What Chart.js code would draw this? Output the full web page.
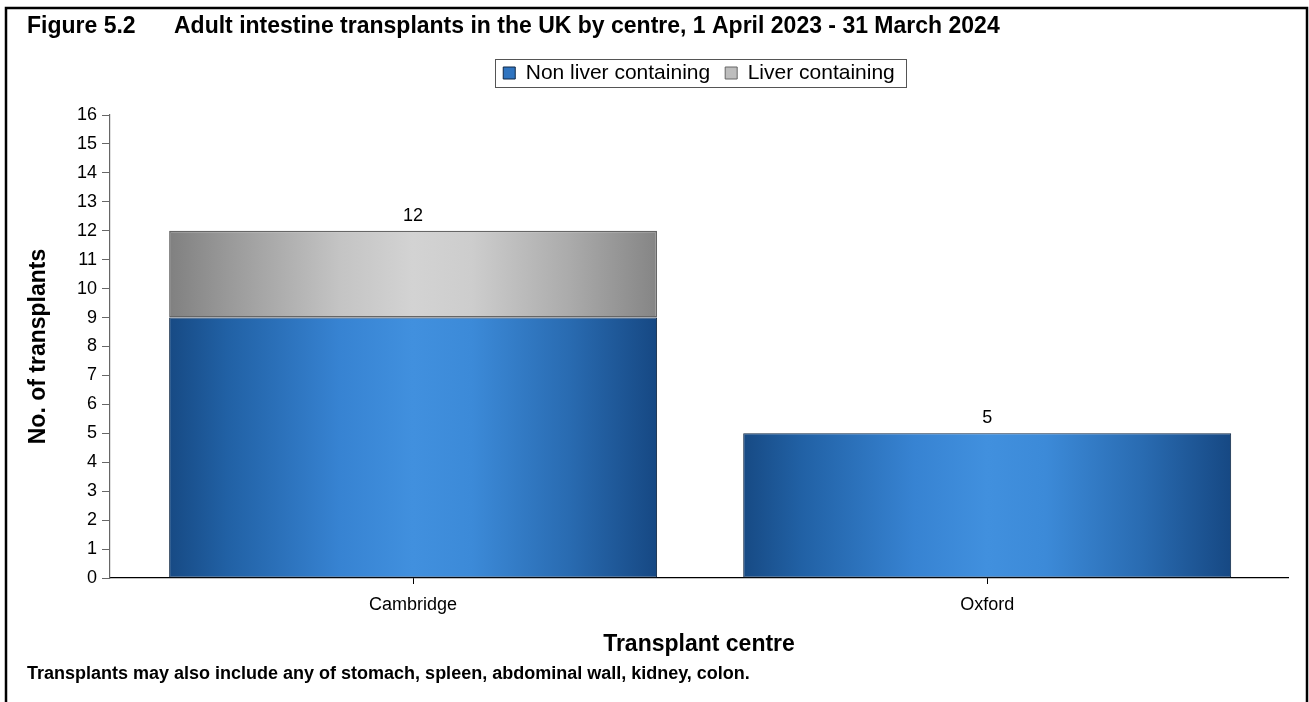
<!DOCTYPE html>
<html>
<head>
<meta charset="utf-8">
<script src="https://cdn.jsdelivr.net/npm/chart.js@4"></script>
<style>
  html, body { margin: 0; padding: 0; background: #fff; }
  canvas { display: block; }
</style>
</head>
<body>
<canvas id="c" width="1309" height="702"></canvas>
<script>
// ---- data ----
const categories = ['Cambridge', 'Oxford'];
const nonLiverContaining = [9, 5];
const liverContaining = [3, 0];
const seriesNames = ['Non liver containing', 'Liver containing'];
const yMin = 0, yMax = 16, yStep = 1;
const titleText = 'Figure 5.2      Adult intestine transplants in the UK by centre, 1 April 2023 - 31 March 2024';
const yAxisTitle = 'No. of transplants';
const xAxisTitle = 'Transplant centre';
const footnote = 'Transplants may also include any of stomach, spleen, abdominal wall, kidney, colon.';

// ---- styles ----
const FONT = '"Liberation Sans", Arial, Helvetica, sans-serif';
const blueStops = [[0, '#174a84'], [0.12, '#2161a5'], [0.35, '#3783d2'], [0.5, '#4190de'], [0.62, '#3c8ad8'], [0.82, '#296bb1'], [1, '#164883']];
const greyStops = [[0, '#808080'], [0.12, '#999999'], [0.35, '#c4c4c4'], [0.5, '#d3d3d3'], [0.62, '#cdcdcd'], [0.82, '#ababab'], [1, '#858585']];

const gradientPlugin = {
  id: 'barGradient',
  beforeDatasetsDraw(chart) {
    const ctx = chart.ctx;
    chart.data.datasets.forEach((ds, di) => {
      const meta = chart.getDatasetMeta(di);
      meta.data.forEach(el => {
        const l = el.x - el.width / 2, r = el.x + el.width / 2;
        const g = ctx.createLinearGradient(l, 0, r, 0);
        ds.stops.forEach(([o, c]) => g.addColorStop(o, c));
        el.options.backgroundColor = g;
      });
    });
  }
};

const extrasPlugin = {
  id: 'extras',
  afterDatasetsDraw(chart) {
    const ctx = chart.ctx;
    const xs = chart.scales.x, ys = chart.scales.y;
    ctx.save();
    ctx.font = '18px ' + FONT;
    ctx.fillStyle = '#000';
    ctx.textAlign = 'center';
    ctx.textBaseline = 'middle';
    categories.forEach((c, i) => {
      const total = chart.data.datasets.reduce((s, ds) => s + (ds.data[i] || 0), 0);
      ctx.fillText(String(total), xs.getPixelForValue(i), ys.getPixelForValue(total) - 15);
    });
    ctx.restore();
  },
  afterDraw(chart) {
    const ctx = chart.ctx;
    ctx.save();
    // legend frame
    const boxes = chart.legend.legendHitBoxes;
    if (boxes && boxes.length) {
      const l = Math.min(...boxes.map(b => b.left)) - 8;
      const r = Math.max(...boxes.map(b => b.left + b.width)) + 11;
      const t = Math.min(...boxes.map(b => b.top)) - 3.5;
      const bt = Math.max(...boxes.map(b => b.top + b.height)) + 3.5;
      ctx.strokeStyle = '#555';
      ctx.lineWidth = 1;
      ctx.strokeRect(Math.round(l) + 0.5, Math.round(t) + 0.5, Math.round(r - l), Math.round(bt - t));
    }
    // footnote
    ctx.font = 'bold 18px ' + FONT;
    ctx.fillStyle = '#000';
    ctx.textAlign = 'left';
    ctx.textBaseline = 'middle';
    ctx.fillText(footnote, 27, 674);
    // outer frame
    ctx.strokeStyle = '#000';
    ctx.lineWidth = 2.5;
    ctx.strokeRect(6, 8, 1301, 720);
    ctx.restore();
  }
};

new Chart(document.getElementById('c'), {
  type: 'bar',
  data: {
    labels: categories,
    datasets: [
      {
        label: seriesNames[0],
        data: nonLiverContaining,
        stops: blueStops,
        backgroundColor: () => '#3a85d4',
        borderColor: '#0f2744',
        borderWidth: 1,
        borderSkipped: false
      },
      {
        label: seriesNames[1],
        data: liverContaining,
        stops: greyStops,
        backgroundColor: () => '#c0c0c0',
        borderColor: '#666666',
        borderWidth: (c) => (c.raw ? 1.6 : 0),
        borderSkipped: false
      }
    ]
  },
  options: {
    responsive: false,
    animation: false,
    devicePixelRatio: 1,
    layout: { padding: { left: 27, right: 21, top: 0, bottom: 0 } },
    datasets: { bar: { categoryPercentage: 1, barPercentage: 0.85 } },
    plugins: {
      title: {
        display: true,
        text: titleText,
        align: 'start',
        color: '#000',
        font: { family: FONT, size: 23, weight: 'bold', lineHeight: 1.2 },
        padding: { top: 13.2, bottom: 6.7 }
      },
      legend: {
        display: true,
        position: 'top',
        fullSize: false,
        labels: {
          color: '#000',
          font: { family: FONT, size: 21 },
          boxWidth: 12,
          boxHeight: 12,
          padding: 15,
          generateLabels: () => [
            { text: seriesNames[0], fillStyle: '#2f74c0', strokeStyle: '#0f2744', lineWidth: 1, datasetIndex: 0, hidden: false, fontColor: '#000' },
            { text: seriesNames[1], fillStyle: '#bdbdbd', strokeStyle: '#666666', lineWidth: 1, datasetIndex: 1, hidden: false, fontColor: '#000' }
          ]
        }
      },
      subtitle: {
        display: true,
        text: '',
        position: 'top',
        weight: 500,
        font: { size: 10, lineHeight: 1 },
        padding: { top: 11.5, bottom: 0 }
      },
      tooltip: { enabled: false }
    },
    scales: {
      x: {
        stacked: true,
        offset: true,
        afterBuildTicks: (s) => { s._startValue = -0.528; s._valueRange = 2.052; },
        afterFit: (s) => { s.height = 124; },
        grid: { display: true, drawOnChartArea: false, offset: false, tickLength: 6, color: '#000', tickColor: '#000' },
        border: { display: true, color: '#000', width: 1.2 },
        ticks: { color: '#000', font: { family: FONT, size: 18 }, padding: 10 },
        title: {
          display: true,
          text: xAxisTitle,
          color: '#000',
          font: { family: FONT, size: 23, weight: 'bold', lineHeight: 1.2 },
          padding: { top: 0, bottom: 44 }
        }
      },
      y: {
        stacked: true,
        min: yMin,
        max: yMax,
        afterFit: (s) => { s.width = 83; },
        grid: { display: true, drawOnChartArea: false, tickLength: 8, color: '#666', tickColor: '#666' },
        border: { display: true, color: '#666', width: 1.2 },
        ticks: { stepSize: yStep, color: '#000', font: { family: FONT, size: 18 }, padding: 5 },
        title: {
          display: true,
          text: yAxisTitle,
          color: '#000',
          font: { family: FONT, size: 23, weight: 'bold', lineHeight: 1 },
          padding: { top: 0, bottom: 0 }
        }
      }
    }
  },
  plugins: [gradientPlugin, extrasPlugin]
});
</script>
</body>
</html>
